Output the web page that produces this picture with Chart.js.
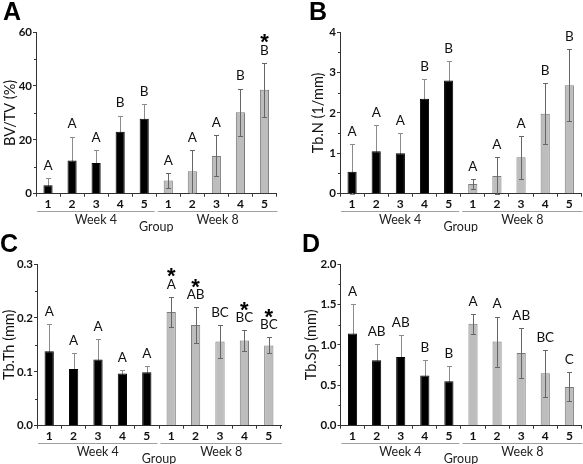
<!DOCTYPE html>
<html><head><meta charset="utf-8">
<script src="https://cdn.jsdelivr.net/npm/chart.js@4.4.1/dist/chart.umd.min.js"></script>
<style>
html,body{margin:0;padding:0;background:#fff;}
#wrap{position:relative;width:583px;height:464px;background:#fff;}
.panel{position:absolute;}
canvas{display:block;}
</style></head><body>
<div id="wrap">
<div class="panel" style="left:0;top:0"><canvas id="cA" width="292" height="232"></canvas></div>
<div class="panel" style="left:292px;top:0"><canvas id="cB" width="291" height="232"></canvas></div>
<div class="panel" style="left:0;top:232px"><canvas id="cC" width="292" height="232"></canvas></div>
<div class="panel" style="left:292px;top:232px"><canvas id="cD" width="291" height="232"></canvas></div>
</div>
<script>
// ---------------- data ----------------
const groups = ['1','2','3','4','5','1','2','3','4','5'];
const weeks = ['Week 4','Week 8'];
const xTitle = 'Group';

const bvtvMean = [3.1, 12.3, 11.4, 23.0, 27.8, 4.9, 8.3, 14.0, 30.2, 38.6];
const bvtvSD   = [2.6, 8.9, 4.8, 6.0, 5.3, 2.6, 8.0, 7.6, 8.8, 10.0];
const bvtvLetters = ['A','A','A','B','B','A','A','A','B','B'];
const bvtvStars   = [0,0,0,0,0,0,0,0,0,1];
const bvtvTicks = [0, 20, 40, 60];
const bvtvTickLabels = ['0','20','40','60'];

const tbnMean = [0.54, 1.05, 1.00, 2.35, 2.80, 0.24, 0.44, 0.90, 1.98, 2.68];
const tbnSD   = [0.68, 0.65, 0.49, 0.49, 0.49, 0.12, 0.46, 0.53, 0.75, 0.89];
const tbnLetters = ['A','A','A','B','B','A','A','A','B','B'];
const tbnStars   = [0,0,0,0,0,0,0,0,0,0];
const tbnTicks = [0, 1, 2, 3, 4];
const tbnTickLabels = ['0','1','2','3','4'];

const tbthMean = [0.138, 0.105, 0.123, 0.097, 0.099, 0.211, 0.187, 0.156, 0.158, 0.149];
const tbthSD   = [0.051, 0.030, 0.037, 0.006, 0.012, 0.028, 0.033, 0.030, 0.019, 0.015];
const tbthLetters = ['A','A','A','A','A','A','AB','BC','BC','BC'];
const tbthStars   = [0,0,0,0,0,1,1,0,1,1];
const tbthTicks = [0, 0.1, 0.2, 0.3];
const tbthTickLabels = ['0.0','0.1','0.2','0.3'];

const tbspMean = [1.14, 0.81, 0.85, 0.62, 0.55, 1.26, 1.04, 0.90, 0.65, 0.48];
const tbspSD   = [0.36, 0.20, 0.27, 0.19, 0.19, 0.12, 0.31, 0.31, 0.29, 0.18];
const tbspLetters = ['A','AB','AB','B','B','A','A','AB','BC','C'];
const tbspStars   = [0,0,0,0,0,0,0,0,0,0];
const tbspTicks = [0, 0.5, 1.0, 1.5, 2.0];
const tbspTickLabels = ['0.0','0.5','1.0','1.5','2.0'];

// ---------------- styling ----------------
const FONT = 'Lato, "Open Sans", sans-serif';
const BLACK = '#000000';
const GRAY = '#bdbdbd';
const GRAY_BORDER = '#7a7a7a';
const AXIS = '#333333';
const PLOT_TOP = 32;
const X_AXIS_H = 38.3;

const annotPlugin = {
  id: 'annot',
  beforeDatasetsDraw(chart) { drawErr(chart, i => i < 5, '#8c8c8c'); },
  afterDatasetsDraw(chart) { drawErr(chart, i => i >= 5, '#666666'); },
  afterDraw(chart) {
    const o = chart.options.plugins.annot;
    const ctx = chart.ctx, y = chart.scales.y, ca = chart.chartArea;
    const meta = chart.getDatasetMeta(0);
    ctx.save();
    // minor ticks
    ctx.strokeStyle = AXIS; ctx.lineWidth = 1;
    for (let k = 0; k < o.ticks.length - 1; k++) {
      const v = (o.ticks[k] + o.ticks[k+1]) / 2;
      const py = Math.round(y.getPixelForValue(v)) + 0.5;
      ctx.beginPath(); ctx.moveTo(ca.left - 2, py); ctx.lineTo(ca.left, py); ctx.stroke();
    }
    // letters and stars
    ctx.textAlign = 'center';
    meta.data.forEach((el, i) => {
      const top = y.getPixelForValue(o.mean[i] + o.sd[i]);
      const ly = top - 13;
      ctx.fillStyle = '#111';
      ctx.font = '13.5px ' + FONT;
      ctx.textBaseline = 'alphabetic';
      ctx.fillText(o.letters[i], el.x, ly + 4.8);
      if (o.stars[i]) {
        ctx.font = 'bold 22px "Liberation Sans", Arial, sans-serif';
        ctx.fillStyle = '#000';
        ctx.fillText('*', el.x, ly - 13 + 12.5);
      }
    });
    // bottom brackets and week labels
    const bnd = (meta.data[4].x + meta.data[5].x) / 2;
    const by = Math.round(ca.bottom + 17) + 0.5;
    ctx.strokeStyle = '#a0a0a0'; ctx.lineWidth = 1;
    ctx.beginPath(); ctx.moveTo(ca.left + 1, by); ctx.lineTo(bnd - 1.5, by); ctx.stroke();
    ctx.beginPath(); ctx.moveTo(bnd + 1.5, by); ctx.lineTo(ca.right + 1, by); ctx.stroke();
    ctx.fillStyle = '#222';
    ctx.font = '12.5px ' + FONT;
    ctx.textBaseline = 'alphabetic';
    ctx.fillText(weeks[0], (ca.left + 1 + bnd - 1.5) / 2, ca.bottom + 30.3);
    ctx.fillText(weeks[1], (bnd + 1.5 + ca.right + 1) / 2, ca.bottom + 30.3);
    ctx.fillText(xTitle, bnd, ca.bottom + 37.3);
    // y title
    ctx.save();
    ctx.translate(o.titleX, (ca.top + ca.bottom) / 2);
    ctx.rotate(-Math.PI / 2);
    ctx.font = '14.5px ' + FONT;
    ctx.fillStyle = '#111';
    ctx.textBaseline = 'middle';
    ctx.fillText(o.yTitle, 0, 0);
    ctx.restore();
    // panel letter
    ctx.font = 'bold 25px "Liberation Sans", Arial, sans-serif';
    ctx.fillStyle = '#000';
    ctx.textAlign = 'left';
    ctx.textBaseline = 'alphabetic';
    ctx.fillText(o.panel, o.letterX, 19.5);
    ctx.restore();
  }
};

function drawErr(chart, pick, color) {
  const o = chart.options.plugins.annot;
  const ctx = chart.ctx, y = chart.scales.y;
  const meta = chart.getDatasetMeta(0);
  ctx.save();
  ctx.strokeStyle = color; ctx.lineWidth = 1;
  meta.data.forEach((el, i) => {
    if (!pick(i)) return;
    const px = Math.round(el.x) + 0.5;
    const yt = Math.round(y.getPixelForValue(o.mean[i] + o.sd[i])) + 0.5;
    const yb = Math.round(y.getPixelForValue(Math.max(0, o.mean[i] - o.sd[i]))) + 0.5;
    ctx.beginPath();
    ctx.moveTo(px, yt); ctx.lineTo(px, yb);
    ctx.moveTo(px - 2.5, yt); ctx.lineTo(px + 2.5, yt);
    ctx.moveTo(px - 2.5, yb); ctx.lineTo(px + 2.5, yb);
    ctx.stroke();
  });
  ctx.restore();
}

function makeChart(cfg) {
  const canvas = document.getElementById(cfg.id);
  const W = canvas.width;
  const colors = groups.map((g, i) => i < 5 ? BLACK : GRAY);
  const borders = groups.map((g, i) => i < 5 ? BLACK : GRAY_BORDER);
  return new Chart(canvas, {
    type: 'bar',
    data: {
      labels: groups,
      datasets: [{
        data: cfg.mean,
        backgroundColor: colors,
        borderColor: borders,
        borderWidth: 1,
        barPercentage: 0.38,
        categoryPercentage: 1.0
      }]
    },
    options: {
      responsive: false,
      animation: false,
      devicePixelRatio: 1,
      layout: { padding: { left: 0, right: W - cfg.right, top: PLOT_TOP, bottom: 0 } },
      plugins: {
        legend: { display: false },
        tooltip: { enabled: false },
        annot: {
          mean: cfg.mean, sd: cfg.sd, letters: cfg.letters, stars: cfg.stars,
          ticks: cfg.ticks, yTitle: cfg.yTitle, panel: cfg.panel,
          titleX: cfg.titleX, letterX: cfg.letterX
        }
      },
      scales: {
        x: {
          offset: true,
          grid: { display: true, offset: true, drawOnChartArea: false, drawTicks: true, tickLength: 3, color: AXIS },
          border: { display: true, color: AXIS, width: 1 },
          ticks: { font: { family: FONT, size: 12, weight: 'bold' }, color: '#111', padding: 0, maxRotation: 0, autoSkip: false },
          afterFit: s => { s.height = X_AXIS_H; }
        },
        y: {
          min: cfg.ticks[0],
          max: cfg.ticks[cfg.ticks.length - 1],
          grid: { display: true, drawOnChartArea: false, drawTicks: true, tickLength: 3, color: AXIS },
          border: { display: true, color: AXIS, width: 1 },
          ticks: {
            font: { family: FONT, size: 11.5, weight: 'bold' }, color: '#111', padding: 1,
            callback: (v, i) => cfg.tickLabels[i]
          },
          afterBuildTicks: s => { s.ticks = cfg.ticks.map(v => ({ value: v })); },
          afterFit: s => { s.width = cfg.left; }
        }
      }
    },
    plugins: [annotPlugin]
  });
}

makeChart({ id: 'cA', panel: 'A', mean: bvtvMean, sd: bvtvSD, letters: bvtvLetters, stars: bvtvStars,
  ticks: bvtvTicks, tickLabels: bvtvTickLabels, yTitle: 'BV/TV (%)', left: 36, right: 276.5, titleX: 10, letterX: 3 });
makeChart({ id: 'cB', panel: 'B', mean: tbnMean, sd: tbnSD, letters: tbnLetters, stars: tbnStars,
  ticks: tbnTicks, tickLabels: tbnTickLabels, yTitle: 'Tb.N (1/mm)', left: 48, right: 289.4, titleX: 26, letterX: 17 });
makeChart({ id: 'cC', panel: 'C', mean: tbthMean, sd: tbthSD, letters: tbthLetters, stars: tbthStars,
  ticks: tbthTicks, tickLabels: tbthTickLabels, yTitle: 'Tb.Th (mm)', left: 37, right: 281, titleX: 9, letterX: 0 });
makeChart({ id: 'cD', panel: 'D', mean: tbspMean, sd: tbspSD, letters: tbspLetters, stars: tbspStars,
  ticks: tbspTicks, tickLabels: tbspTickLabels, yTitle: 'Tb.Sp (mm)', left: 48.5, right: 289.4, titleX: 19, letterX: 10 });
</script>
</body></html>
